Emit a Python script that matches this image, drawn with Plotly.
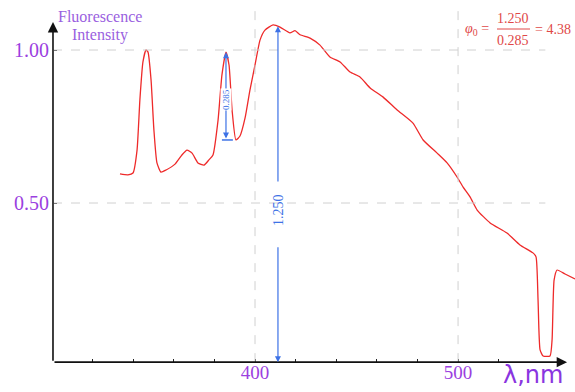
import plotly.graph_objects as go

# Spectrum (wavelength nm, relative fluorescence intensity)
wavelength = [333.5, 337.4, 339.9, 341.9, 343.3, 344.8, 346.3, 347.3, 348.8, 350.2,
              351.7, 353.7, 356.2, 360.6, 364.0, 366.5, 369.0, 371.9, 374.9, 377.3,
              379.3, 381.8, 383.7, 385.7, 387.2, 388.7, 390.6, 392.6, 395.1, 397.5,
              400.0, 402.5, 404.9, 408.9, 412.3, 417.2, 419.7, 422.2, 427.1, 432.0,
              436.9, 441.9, 446.8, 451.7, 456.7, 463.1, 470.0, 477.8, 482.8, 489.7,
              494.6, 499.5, 502.5, 505.9, 509.4, 515.8, 524.1, 530.5, 536.9, 538.4,
              539.4, 540.4, 541.9, 545.3, 546.3, 547.3, 548.8, 552.7, 557.6]
intensity = [0.595, 0.592, 0.598, 0.673, 0.837, 0.961, 1.000, 0.993, 0.902, 0.739,
             0.631, 0.601, 0.608, 0.627, 0.657, 0.673, 0.663, 0.631, 0.624, 0.641,
             0.657, 0.771, 0.918, 0.993, 0.951, 0.804, 0.706, 0.719, 0.778, 0.869,
             0.951, 1.033, 1.065, 1.082, 1.075, 1.056, 1.063, 1.050, 1.039, 1.016,
             0.977, 0.961, 0.928, 0.912, 0.876, 0.846, 0.804, 0.761, 0.706, 0.663,
             0.631, 0.585, 0.552, 0.520, 0.477, 0.435, 0.402, 0.363, 0.337, 0.324,
             0.183, 0.020, 0.000, 0.000, 0.052, 0.248, 0.281, 0.268, 0.252]

x_ticks = [400, 500]
x_ticklabels = ["400", "500"]
x_minor_ticks = [320, 340, 360, 380, 420, 440, 460, 480, 520]
y_ticks = [0.5, 1.0]
y_ticklabels = ["0.50", "1.00"]

peak2 = (385.7, 0.993)   # second peak (top of 0.285 arrow)
valley2 = 0.706          # valley after second peak
peak_main = (411.3, 1.078)
axis_y = -0.02
axis_x = 300.5

RED = "#ee2a2a"
BLUE = "#3d72e6"
PURPLE = "#9b3fe0"
GRID = "#d0d0d0"

fig = go.Figure()
fig.add_trace(go.Scatter(x=wavelength, y=intensity, mode="lines",
                         line=dict(color=RED, width=1.3, shape="spline", smoothing=0.5),
                         hoverinfo="skip", showlegend=False))

shapes = []
# dashed grid lines
for yv in y_ticks:
    shapes.append(dict(type="line", xref="x", yref="y", x0=axis_x, x1=543, y0=yv, y1=yv,
                       line=dict(color=GRID, width=1, dash="dash")))
for xv, ytop in [(400, 1.13), (500, 1.14)]:
    shapes.append(dict(type="line", xref="x", yref="y", x0=xv, x1=xv, y0=axis_y, y1=ytop,
                       line=dict(color=GRID, width=1, dash="dash")))
# bar at bottom of 0.285 arrow
shapes.append(dict(type="line", xref="x", yref="y", x0=383.7, x1=389.1, y0=valley2, y1=valley2,
                   line=dict(color=BLUE, width=1.5)))
# fraction bar
shapes.append(dict(type="line", xref="paper", yref="paper", x0=497/575, x1=530/575,
                   y0=1 - 29/392, y1=1 - 29/392, line=dict(color="#e04848", width=1)))

ann = []
# axes arrows
ann.append(dict(x=553.7, y=axis_y, ax=axis_x, ay=axis_y, xref="x", yref="y", axref="x", ayref="y",
                showarrow=True, arrowhead=2, arrowsize=1.3, arrowwidth=1.6, arrowcolor="#111", text=""))
ann.append(dict(x=axis_x, y=1.0915, ax=axis_x, ay=axis_y, xref="x", yref="y", axref="x", ayref="y",
                showarrow=True, arrowhead=2, arrowsize=1.3, arrowwidth=1.6, arrowcolor="#111", text=""))
# 0.285 arrow (double)
ann.append(dict(x=peak2[0], y=peak2[1], ax=peak2[0], ay=valley2, xref="x", yref="y", axref="x", ayref="y",
                showarrow=True, arrowhead=2, startarrowhead=2, arrowside="end+start",
                arrowsize=1, startarrowsize=1, arrowwidth=1.2, arrowcolor=BLUE, text=""))
ann.append(dict(x=peak2[0], y=0.84, xref="x", yref="y", text="0.285", showarrow=False, textangle=-90,
                xanchor="center", yanchor="middle",
                font=dict(family="Liberation Serif", size=9, color=BLUE), bgcolor="white", borderpad=0))
# 1.250 arrow, split around its label
ann.append(dict(x=peak_main[0], y=peak_main[1], ax=peak_main[0], ay=0.565, xref="x", yref="y",
                axref="x", ayref="y", showarrow=True, arrowhead=2, arrowsize=1, arrowwidth=1.2,
                arrowcolor=BLUE, text=""))
ann.append(dict(x=peak_main[0], y=axis_y, ax=peak_main[0], ay=0.36, xref="x", yref="y",
                axref="x", ayref="y", showarrow=True, arrowhead=2, arrowsize=1, arrowwidth=1.2,
                arrowcolor=BLUE, text=""))
ann.append(dict(x=peak_main[0], y=0.477, xref="x", yref="y", text="1.250", showarrow=False, textangle=-90,
                xanchor="center", yanchor="middle",
                font=dict(family="Liberation Serif", size=14, color=BLUE)))

def ptext(px, py, text, font):
    return dict(x=px / 575, y=1 - py / 392, xref="paper", yref="paper", showarrow=False,
                xanchor="center", yanchor="middle", text=text, font=font)

tf = dict(family="Liberation Serif", size=16, color="#9a5fe0")
ann.append(ptext(100, 16, "Fluorescence", tf))
ann.append(ptext(100, 35, "Intensity", tf))
ann.append(ptext(533, 375, "λ,nm", dict(family="DejaVu Sans", size=24, color="#8a35e0")))
ff = dict(family="Liberation Serif", size=14, color="#e04848")
ann.append(ptext(477, 29, "<i>φ</i><sub>0</sub> =", ff))
ann.append(ptext(513, 18, "1.250", ff))
ann.append(ptext(513, 40, "0.285", ff))
ann.append(ptext(553, 29, "= 4.38", ff))

fig.update_layout(
    width=575, height=392, margin=dict(l=0, r=0, t=0, b=0),
    paper_bgcolor="white", plot_bgcolor="white",
    shapes=shapes, annotations=ann,
    xaxis=dict(range=[274.4, 557.6], domain=[0, 1], anchor="free", position=1 - 362 / 392,
               showgrid=False, zeroline=False, showline=False,
               tickmode="array", tickvals=x_ticks, ticktext=x_ticklabels,
               ticks="inside", ticklen=3, tickcolor="#222", ticklabelstandoff=-3,
               minor=dict(tickvals=x_minor_ticks, ticks="inside", ticklen=3, tickcolor="#222"),
               tickfont=dict(family="Liberation Serif", size=19, color=PURPLE)),
    yaxis=dict(range=[-0.1176, 1.1634], domain=[0, 1], anchor="free", position=53 / 575,
               showgrid=False, zeroline=False, showline=False,
               tickmode="array", tickvals=y_ticks, ticktext=y_ticklabels,
               ticks="inside", ticklen=3, tickcolor="#222", ticklabelstandoff=4,
               tickfont=dict(family="Liberation Serif", size=20, color=PURPLE)),
)

fig.write_html("out.html")
